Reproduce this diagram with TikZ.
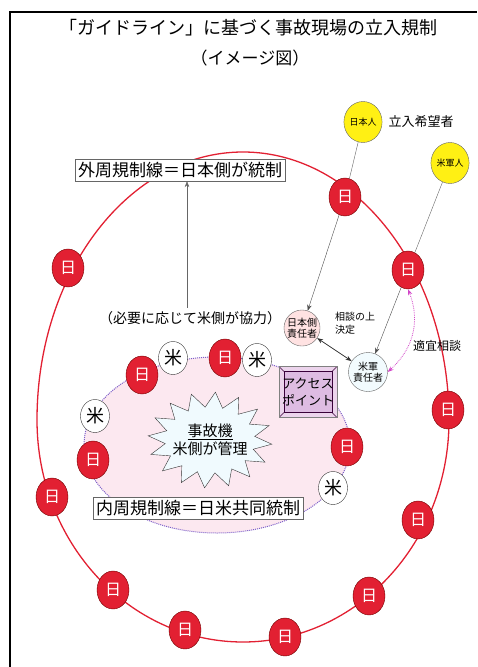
\documentclass[tikz,border=0pt]{standalone}
\usepackage{fontspec}
\setmainfont{Noto Sans CJK JP}
\usetikzlibrary{arrows.meta, shapes.geometric}

\definecolor{nichired}{RGB}{226,32,50}
\definecolor{kiiro}{RGB}{255,240,20}
\definecolor{usupink}{RGB}{252,232,240}
\definecolor{murasaki}{RGB}{125,95,200}
\definecolor{akamura}{RGB}{210,70,200}
\definecolor{apfill}{RGB}{222,188,226}
\definecolor{apbevel}{RGB}{236,212,236}

\tikzset{
    nichi/.style={ellipse, draw=red!45!black, fill=nichired, text=white, minimum width=32pt, minimum height=38pt, inner sep=0pt, font=\fontsize{16}{16}\selectfont},
    bei/.style={ellipse, draw=black!80, fill=white, minimum width=29pt, minimum height=33pt, inner sep=0pt, font=\fontsize{18}{18}\selectfont},
    hito/.style={ellipse, draw=black!60, fill=kiiro, minimum width=32pt, minimum height=41pt, inner sep=0pt, font=\fontsize{9}{9}\selectfont},
    chief/.style={circle, draw=black!60, minimum size=35pt, inner sep=0pt, align=center, font=\fontsize{10}{11}\selectfont},
    kisei/.style={draw=black!60, fill=white, inner sep=3pt, font=\fontsize{17}{18}\selectfont},
    setsumei/.style={align=left, inner sep=0pt}
}

\begin{document}
\begin{tikzpicture}[x=1pt, y=-1pt]
    \useasboundingbox (0,0) rectangle (477,667);

    % frame
    \draw[line width=2.5pt] (10,667) -- (10,12) -- (477,12);

    % title
    \node[font=\fontsize{18}{18}\selectfont] (title1) at (248,28) {「ガイドライン」に基づく事故現場の立入規制};
    \node[font=\fontsize{17}{17}\selectfont] (title2) at (250,58) {（イメージ図）};

    % outer line and inner area
    \draw[nichired, line width=1.3pt] (449,420) arc[start angle=0, end angle=180, x radius=206, y radius=222]
        arc[start angle=180, end angle=360, x radius=206, y radius=268];
    \draw[murasaki, densely dotted, line width=1pt, fill=usupink] (217,445) ellipse[x radius=133, y radius=88];

    % crashed aircraft
    \draw[draw=black!80, fill=cyan!6] plot[samples at={0,...,31}, variable=\k]
        ({210+(mod(\k,2)==0 ? 62 : 45)*cos(\k*11.25+5)}, {440+(mod(\k,2)==0 ? 48 : 33)*sin(\k*11.25+5)}) -- cycle;
    \node[align=center, font=\fontsize{15}{18}\selectfont] (jiko) at (210,440) {\underline{事故機}\\米側が管理};

    % access point
    \node[draw=black!50, fill=apbevel, minimum width=58pt, minimum height=51pt, align=center, inner sep=0pt, font=\fontsize{13}{17}\selectfont,
        path picture={
            \draw[violet!45!black, fill=apfill] ([shift={(5,5)}]path picture bounding box.north west) rectangle ([shift={(-5,-5)}]path picture bounding box.south east);
            \draw[violet!45!black] (path picture bounding box.north west) -- ++(5,5);
            \draw[violet!45!black] (path picture bounding box.south east) -- ++(-5,-5);
            \draw[violet!45!black] (path picture bounding box.north east) -- ++(-5,5);
            \draw[violet!45!black] (path picture bounding box.south west) -- ++(5,-5);
        }] (access) at (308,392) {アクセス\\ポイント};

    % labels of the two lines
    \node[kisei] (gaishu) at (180,170) {外周規制線＝日本側が統制};
    \node[kisei] (naishu) at (198,508) {内周規制線＝日米共同統制};
    \node[font=\fontsize{14}{14}\selectfont] (hitsuyo) at (190,318) {（必要に応じて米側が協力）};
    \draw[-{Stealth[length=6pt]}, black!60] (hitsuyo.north -| 187,0) -- (gaishu.south -| 187,0);

    % outer posts
    \foreach \p [count=\i] in {(345,197),(408,270),(448,410),(418,520),(369,596),(285,637),(185,630),(113,590),(52,497),(68,268)} {
        \node[nichi] (o\i) at \p {日};
    }

    % inner posts
    \foreach \p [count=\i] in {(142,375),(225,358),(93,460),(347,447)} {
        \node[nichi] (i\i) at \p {日};
    }
    \foreach \p [count=\i] in {(173,358),(257,360),(95,416),(333,488)} {
        \node[bei] (b\i) at \p {米};
    }

    % people who want to enter
    \node[hito] (jp) at (363,122) {日本人};
    \node[hito] (us) at (450,163) {米軍人};
    \node[right, font=\fontsize{13}{13}\selectfont] (kibo) at (385,122) {立入希望者};

    % persons in charge
    \node[chief, fill=pink!45] (jpchief) at (302,328) {日本側\\責任者};
    \node[chief, fill=cyan!5, minimum size=39pt] (uschief) at (368,372) {米軍\\責任者};
    \node[setsumei, right, font=\fontsize{10}{13}\selectfont] (kettei) at (335,323) {相談の上\\決定};
    \node[setsumei, right, font=\fontsize{12}{12}\selectfont] (tekigi) at (413,346) {適宜相談};

    % connectors
    \draw[black!60] (jp) -- (o1);
    \draw[black!60] (us) -- (o2);
    \draw[-{Stealth[length=6pt]}, black!70] (o1) -- (jpchief);
    \draw[-{Stealth[length=6pt]}, black!70] (o2) -- (uschief);
    \draw[{Stealth[length=6pt]}-{Stealth[length=6pt]}, black!80, thick] (jpchief) -- (uschief);
    \draw[{Stealth[length=6pt]}-{Stealth[length=6pt]}, akamura, densely dotted, thick] (o2.south) .. controls (422,325) and (410,352) .. (uschief.east);
\end{tikzpicture}
\end{document}
